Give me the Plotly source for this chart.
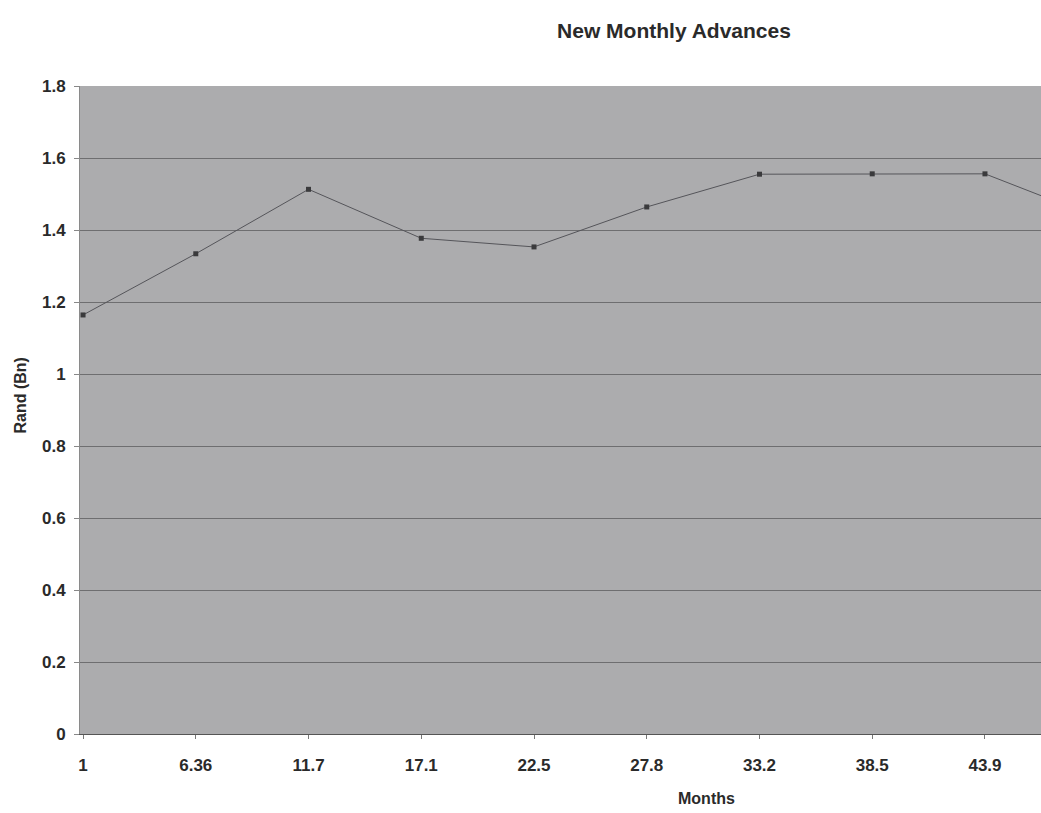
import plotly.graph_objects as go

# Data
month_labels = ["1", "6.36", "11.7", "17.1", "22.5", "27.8", "33.2", "38.5", "43.9", "49.3"]
advances_bn = [1.164, 1.334, 1.513, 1.377, 1.353, 1.464, 1.555, 1.556, 1.556, 1.434]
y_ticks = [0, 0.2, 0.4, 0.6, 0.8, 1, 1.2, 1.4, 1.6, 1.8]

FONT = "Liberation Sans, Arial, sans-serif"
TXT = "#2a2a2a"

fig = go.Figure()
fig.add_trace(go.Scatter(
    x=list(range(len(month_labels))),
    y=advances_bn,
    mode="lines+markers",
    line=dict(color="#55555a", width=1),
    marker=dict(symbol="square", size=5, color="#3a3a3c"),
    cliponaxis=True,
    showlegend=False,
))

fig.update_layout(
    width=1041, height=813,
    margin=dict(l=80, r=0, t=86, b=79),
    paper_bgcolor="white",
    plot_bgcolor="#acacae",
    font=dict(family=FONT, color=TXT, size=16),
    title=dict(text="<b>New Monthly Advances</b>", x=674/1041, xref="container",
               xanchor="center", y=1 - 31/813, yref="container", yanchor="middle",
               font=dict(size=21, family=FONT, color=TXT)),
    xaxis=dict(
        range=[-0.027, 8.497],
        tickmode="array",
        tickvals=list(range(len(month_labels))),
        ticktext=["<b>%s</b>" % t for t in month_labels],
        showgrid=False, zeroline=False,
        showline=True, linecolor="#555", linewidth=1,
        ticks="outside", ticklen=4, tickcolor="#777",
        ticklabelstandoff=12,
        tickfont=dict(size=17, family=FONT, color=TXT),
    ),
    yaxis=dict(
        range=[0, 1.8],
        tickmode="array",
        tickvals=y_ticks,
        ticktext=["<b>%g</b>" % v for v in y_ticks],
        showgrid=True, gridcolor="#6e6e70", gridwidth=1,
        zeroline=False,
        showline=True, linecolor="#8a8a8a", linewidth=1,
        ticks="outside", ticklen=5, tickcolor="#888",
        ticklabelstandoff=5,
        tickfont=dict(size=17, family=FONT, color=TXT),
    ),
    annotations=[
        dict(text="<b>Months</b>", xref="paper", yref="paper",
             x=(706 - 80) / 961, y=-(797 - 733) / 647, xanchor="center", yanchor="middle",
             showarrow=False, font=dict(size=16, family=FONT, color=TXT)),
        dict(text="<b>Rand (Bn)</b>", xref="paper", yref="paper",
             x=-(80 - 20) / 961, y=(733 - 395) / 647, xanchor="center", yanchor="middle",
             textangle=-90, showarrow=False, font=dict(size=16, family=FONT, color=TXT)),
    ],
)

fig.write_html("out.html")
